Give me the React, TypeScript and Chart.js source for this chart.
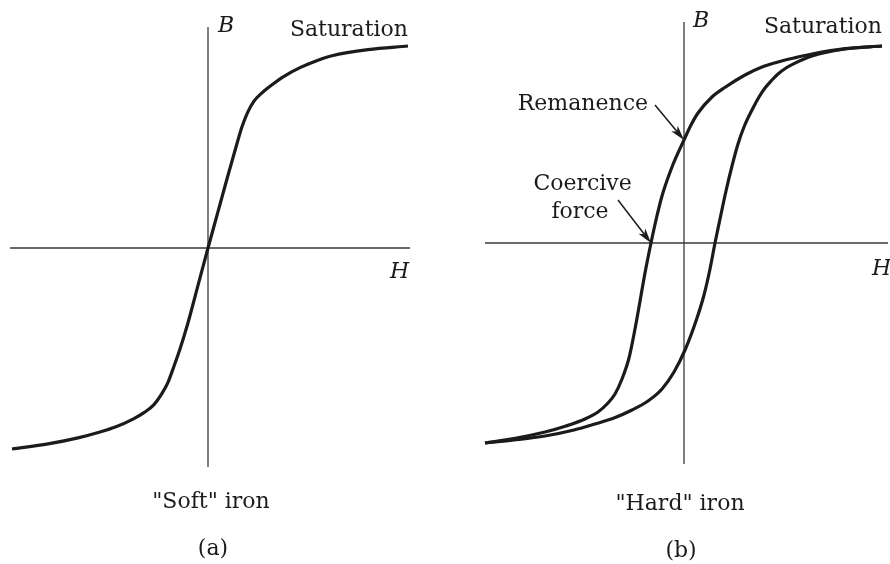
import { useEffect, useRef } from "react";
import { Chart, registerables } from "chart.js";

Chart.register(...registerables);

// ---- (a) "Soft" iron: single magnetisation curve B(H) ----
const softH = [
  -0.98, -0.8, -0.65, -0.54, -0.46, -0.375, -0.32, -0.27, -0.23, -0.2, -0.17, -0.14, -0.1, -0.05,
  0, 0.05, 0.1, 0.14, 0.17, 0.2, 0.23, 0.27, 0.32, 0.38, 0.46, 0.55, 0.62, 0.8, 1.0,
];
const softB = [
  -0.995, -0.97, -0.94, -0.911, -0.885, -0.847, -0.815, -0.775, -0.72, -0.665, -0.585, -0.5, -0.37, -0.185,
  0, 0.18, 0.36, 0.5, 0.6, 0.675, 0.727, 0.768, 0.808, 0.85, 0.893, 0.93, 0.952, 0.982, 1.0,
];

// ---- (b) "Hard" iron: hysteresis loop, two branches (both listed with H increasing) ----
// descending branch (coming back from saturation)
const hardDownH = [
  -0.995, -0.85, -0.695, -0.59, -0.495, -0.43, -0.38, -0.345, -0.31, -0.275, -0.245, -0.225, -0.195,
  -0.165, -0.14, -0.11, -0.06, 0, 0.035, 0.07, 0.14, 0.2, 0.305, 0.39, 0.47, 0.55, 0.64, 0.805, 0.99,
];
const hardDownB = [
  -1.0, -0.978, -0.945, -0.915, -0.88, -0.845, -0.8, -0.755, -0.68, -0.575, -0.43, -0.32, -0.15,
  0, 0.115, 0.235, 0.38, 0.515, 0.59, 0.65, 0.73, 0.775, 0.84, 0.88, 0.905, 0.925, 0.945, 0.972, 0.985,
];
// ascending branch (magnetising up towards saturation)
const hardUpH = [
  -0.995, -0.85, -0.695, -0.55, -0.445, -0.35, -0.26, -0.18, -0.11, -0.05, 0.005, 0.06, 0.1, 0.13,
  0.155, 0.18, 0.21, 0.24, 0.27, 0.3, 0.34, 0.375, 0.405, 0.44, 0.47, 0.51, 0.55, 0.64, 0.805, 0.99,
];
const hardUpB = [
  -1.0, -0.985, -0.965, -0.935, -0.905, -0.875, -0.835, -0.79, -0.73, -0.645, -0.535, -0.39, -0.26, -0.13,
  0, 0.12, 0.26, 0.385, 0.495, 0.58, 0.665, 0.73, 0.775, 0.815, 0.845, 0.875, 0.897, 0.935, 0.97, 0.985,
];

// points named by the annotations (they lie on the descending branch)
const remanenceB = 0.515; // B at H = 0
const coerciveH = -0.165; // H at B = 0

const INK = "#1b1b1b";
const AXIS_INK = "#3a3a3a";
const FONT = '"DejaVu Serif", "Liberation Serif", serif';

type Label = { text: string; h: number; b: number; align: CanvasTextAlign; italic?: boolean };
type Arrow = { fromH: number; fromB: number; toH: number; toB: number };
type Panel = {
  series: { h: number[]; b: number[] }[];
  padding: { left: number; right: number; top: number; bottom: number };
  hAxis: [number, number];
  bAxis: [number, number];
  labels: Label[];
  arrows: Arrow[];
};

const panelA: Panel = {
  series: [{ h: softH, b: softB }],
  padding: { left: 8, right: 37, top: 46, bottom: 114 },
  hAxis: [-0.99, 1.01],
  bAxis: [-1.084, 1.094],
  labels: [
    { text: "B", h: 0.05, b: 1.069, align: "left", italic: true },
    { text: "Saturation", h: 1.0, b: 1.05, align: "right" },
    { text: "H", h: 0.91, b: -0.149, align: "left", italic: true },
    { text: '"Soft" iron', h: 0.015, b: -1.287, align: "center" },
    { text: "(a)", h: 0.025, b: -1.52, align: "center" },
  ],
  arrows: [],
};

const panelB: Panel = {
  series: [
    { h: hardDownH, b: hardDownB },
    { h: hardUpH, b: hardUpB },
  ],
  padding: { left: 39, right: 6, top: 43, bottom: 121 },
  hAxis: [-0.995, 1.02],
  bAxis: [-1.105, 1.105],
  labels: [
    { text: "B", h: 0.045, b: 1.08, align: "left", italic: true },
    { text: "Saturation", h: 0.99, b: 1.05, align: "right" },
    { text: "H", h: 0.94, b: -0.16, align: "left", italic: true },
    { text: "Remanence", h: -0.18, b: 0.665, align: "right" },
    { text: "Coercive", h: -0.507, b: 0.265, align: "center" },
    { text: "force", h: -0.52, b: 0.125, align: "center" },
    { text: '"Hard" iron', h: -0.02, b: -1.335, align: "center" },
    { text: "(b)", h: -0.015, b: -1.57, align: "center" },
  ],
  arrows: [
    { fromH: -0.145, fromB: 0.69, toH: 0, toB: remanenceB },
    { fromH: -0.33, fromB: 0.215, toH: coerciveH, toB: 0 },
  ],
};

function figurePlugin(p: Panel) {
  return {
    id: "figureAxesAndLabels",
    beforeDatasetsDraw(chart: any) {
      const { ctx, scales } = chart;
      const x = scales.x;
      const y = scales.y;
      const x0 = x.getPixelForValue(0);
      const y0 = y.getPixelForValue(0);
      ctx.save();
      ctx.strokeStyle = AXIS_INK;
      ctx.lineWidth = 1.3;
      ctx.beginPath();
      ctx.moveTo(x.getPixelForValue(p.hAxis[0]), y0);
      ctx.lineTo(x.getPixelForValue(p.hAxis[1]), y0);
      ctx.moveTo(x0, y.getPixelForValue(p.bAxis[1]));
      ctx.lineTo(x0, y.getPixelForValue(p.bAxis[0]));
      ctx.stroke();
      ctx.restore();
    },
    afterDatasetsDraw(chart: any) {
      const { ctx, scales } = chart;
      const x = scales.x;
      const y = scales.y;
      ctx.save();
      ctx.fillStyle = INK;
      ctx.textBaseline = "alphabetic";
      for (const l of p.labels) {
        ctx.font = `${l.italic ? "italic " : ""}22px ${FONT}`;
        ctx.textAlign = l.align;
        ctx.fillText(l.text, x.getPixelForValue(l.h), y.getPixelForValue(l.b));
      }
      for (const a of p.arrows) {
        const fx = x.getPixelForValue(a.fromH);
        const fy = y.getPixelForValue(a.fromB);
        const tx = x.getPixelForValue(a.toH);
        const ty = y.getPixelForValue(a.toB);
        const ang = Math.atan2(ty - fy, tx - fx);
        const head = 15;
        const half = 4.2;
        const bx = tx - head * Math.cos(ang);
        const by = ty - head * Math.sin(ang);
        ctx.strokeStyle = INK;
        ctx.lineWidth = 1.5;
        ctx.beginPath();
        ctx.moveTo(fx, fy);
        ctx.lineTo(bx + 4 * Math.cos(ang), by + 4 * Math.sin(ang));
        ctx.stroke();
        ctx.beginPath();
        ctx.moveTo(tx, ty);
        ctx.lineTo(bx + half * Math.sin(ang), by - half * Math.cos(ang));
        ctx.lineTo(bx + 4 * Math.cos(ang), by + 4 * Math.sin(ang));
        ctx.lineTo(bx - half * Math.sin(ang), by + half * Math.cos(ang));
        ctx.closePath();
        ctx.fill();
      }
      ctx.restore();
    },
  };
}

function PanelChart({ panel, left }: { panel: Panel; left: number }) {
  const ref = useRef<HTMLCanvasElement | null>(null);
  useEffect(() => {
    if (!ref.current) return;
    const chart = new Chart(ref.current, {
      type: "scatter",
      data: {
        datasets: panel.series.map((s) => ({
          data: s.h.map((h, i) => ({ x: h, y: s.b[i] })),
          showLine: true,
          borderColor: INK,
          borderWidth: 3.2,
          pointRadius: 0,
          cubicInterpolationMode: "monotone" as const,
          clip: false as any,
        })),
      },
      options: {
        animation: false,
        responsive: false,
        devicePixelRatio: 1,
        layout: { padding: panel.padding },
        plugins: { legend: { display: false }, tooltip: { enabled: false } },
        events: [],
        scales: {
          x: { type: "linear", min: -1, max: 1, display: false },
          y: { type: "linear", min: -1, max: 1, display: false },
        },
      },
      plugins: [figurePlugin(panel)],
    });
    return () => chart.destroy();
  }, [panel]);
  return (
    <canvas
      ref={ref}
      width={445}
      height={564}
      style={{ position: "absolute", left, top: 0, width: 445, height: 564 }}
    />
  );
}

export default function App() {
  return (
    <div
      style={{
        position: "fixed",
        left: 0,
        top: 0,
        width: 890,
        height: 564,
        background: "#ffffff",
        overflow: "hidden",
      }}
    >
      <PanelChart panel={panelA} left={0} />
      <PanelChart panel={panelB} left={445} />
    </div>
  );
}
